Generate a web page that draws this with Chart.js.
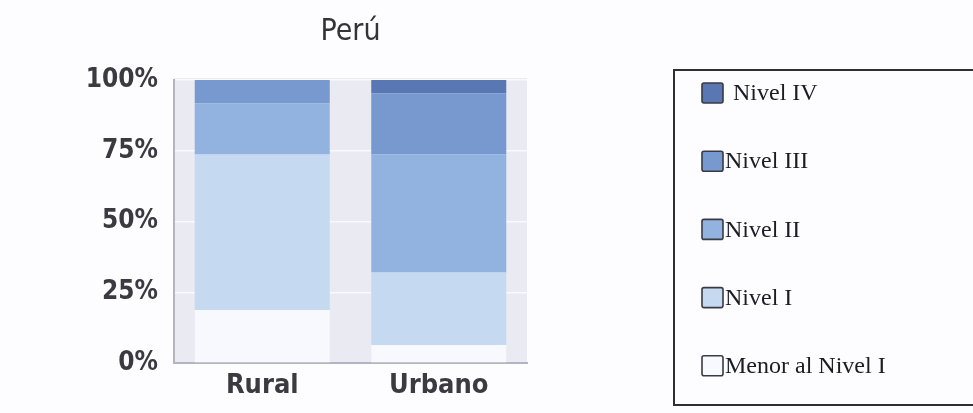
<!DOCTYPE html>
<html>
<head>
<meta charset="utf-8">
<script src="https://cdn.jsdelivr.net/npm/chart.js@4"></script>
<style>
  html, body { margin: 0; padding: 0; background: #fdfdff; }
  #wrap { width: 973px; height: 413px; position: relative; }
</style>
</head>
<body>
<div id="wrap"><canvas id="c" width="973" height="413"></canvas></div>
<script>
// Distribución por nivel de logro, Perú (porcentaje)
const categories = ['Rural', 'Urbano'];
const seriesNames = ['Menor al Nivel I', 'Nivel I', 'Nivel II', 'Nivel III', 'Nivel IV'];
const menorNivelI = [18.7, 6.4];
const nivelI      = [55.0, 25.6];
const nivelII     = [18.1, 41.7];
const nivelIII    = [8.2, 21.6];
const nivelIV     = [0.0, 4.7];
const yTicks = [0, 25, 50, 75, 100];
const chartTitle = 'Perú';

const seriesValues = [menorNivelI, nivelI, nivelII, nivelIII, nivelIV];
const seriesColors = ['#f7f9fe', '#c5daf1', '#92b3df', '#7799cf', '#5877b3'];

const axisFont = "'DejaVu Sans Condensed', 'DejaVu Sans', sans-serif";

// plot-area background
const areaBg = {
  id: 'areaBg',
  beforeDraw(chart) {
    const { ctx, chartArea: a } = chart;
    ctx.save();
    ctx.fillStyle = '#e9eaf2';
    ctx.fillRect(a.left, a.top - 2, a.right - a.left, a.bottom - a.top + 2);
    ctx.restore();
  }
};

// boxed legend on the right, listed from top level to bottom level
const boxLegend = {
  id: 'boxLegend',
  afterDraw(chart) {
    const { ctx } = chart;
    const ds = chart.data.datasets;
    ctx.save();
    ctx.strokeStyle = '#2e2e33';
    ctx.lineWidth = 2;
    ctx.strokeRect(674, 70, 320, 335);
    ctx.font = "24px 'Liberation Serif', 'DejaVu Serif', serif";
    ctx.textBaseline = 'middle';
    const order = ds.map((d, i) => i).reverse();
    order.forEach((di, k) => {
      const cy = 93 + k * 68.2;
      const sw = 21, sh = 20;
      const sx = 702, sy = cy - sh / 2;
      ctx.beginPath();
      if (ctx.roundRect) ctx.roundRect(sx, sy, sw, sh, 2); else ctx.rect(sx, sy, sw, sh);
      ctx.fillStyle = ds[di].backgroundColor;
      ctx.fill();
      ctx.lineWidth = 1.6;
      ctx.strokeStyle = '#3a3a44';
      ctx.stroke();
      ctx.fillStyle = '#1c1c24';
      ctx.fillText(ds[di].label, 725 + (k === 0 ? 8 : 0), cy + 1);
    });
    ctx.restore();
  }
};

new Chart(document.getElementById('c'), {
  type: 'bar',
  data: {
    labels: categories,
    datasets: seriesNames.map((name, i) => ({
      label: name,
      data: seriesValues[i],
      backgroundColor: seriesColors[i],
      borderWidth: 0,
      barPercentage: 0.765,
      categoryPercentage: 1.0
    }))
  },
  options: {
    responsive: false,
    animation: false,
    devicePixelRatio: 1,
    layout: { padding: { left: 0, right: 446, top: 0, bottom: 0 } },
    plugins: {
      legend: { display: false },
      tooltip: { enabled: false },
      title: {
        display: true,
        fullSize: false,
        text: chartTitle,
        color: '#333338',
        font: { family: axisFont, size: 30, weight: 'normal' },
        padding: { top: 14, bottom: 30 }
      }
    },
    scales: {
      x: {
        stacked: true,
        grid: { display: false, drawTicks: false },
        border: { display: true, color: '#b4b4c0', width: 2 },
        ticks: {
          color: '#3a3a40',
          font: { family: axisFont, size: 27, weight: 'bold' },
          padding: 7
        },
        afterFit(scale) { scale.height = 50; }
      },
      y: {
        stacked: true,
        min: 0,
        max: 100,
        afterBuildTicks(scale) { scale.ticks = yTicks.map(v => ({ value: v })); },
        grid: { color: 'rgba(255,255,255,0.75)', lineWidth: 1.5, drawTicks: false },
        border: { display: true, color: '#b4b4c0', width: 2 },
        ticks: {
          color: '#3a3a40',
          font: { family: axisFont, size: 26, weight: 'bold' },
          padding: 16,
          callback: v => v + '%'
        },
        afterFit(scale) { scale.width = 174; }
      }
    }
  },
  plugins: [areaBg, boxLegend]
});
</script>
</body>
</html>
